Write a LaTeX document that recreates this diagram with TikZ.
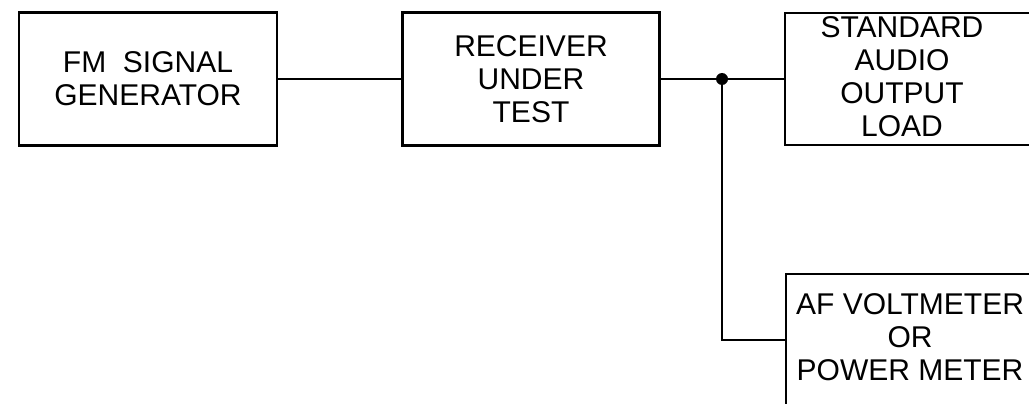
\documentclass[tikz,border=0pt]{standalone}
\usepackage{fontspec}
\setmainfont{Liberation Sans}
\usetikzlibrary{arrows.meta}

\begin{document}
\begin{tikzpicture}[x=1pt,y=-1pt,
  blk/.style={draw, line width=2.6pt, rectangle, inner sep=0pt},
  lbl/.style={align=center, inner sep=0pt, font=\fontsize{30}{33}\selectfont},
  wire/.style={line width=2.6pt}]
\useasboundingbox (0,0) rectangle (1029,404);
\node[blk, lbl, minimum width=258, minimum height=133] (gen) at (148,79) {FM\ \ SIGNAL\\GENERATOR};
\node[blk, lbl, minimum width=257, minimum height=133] (rcv) at (531,79) {RECEIVER\\UNDER\\TEST};
\node[blk, minimum width=270, minimum height=132] (load) at (920,79) {};
\node[lbl] (loadtxt) at (902,77) {STANDARD\\AUDIO\\OUTPUT\\LOAD};
\node[blk, minimum width=270, minimum height=132] (meter) at (921,340) {};
\node[lbl] (metertxt) at (910,337) {AF VOLTMETER\\OR\\POWER METER};
\coordinate (jn) at (722,79);
\draw[wire] (gen.east) -- (rcv.west);
\draw[wire] (rcv.east) -- (jn) -- (load.west);
\draw[wire] (jn) |- (meter.west);
\fill[black] (jn) circle (6);
\end{tikzpicture}
\end{document}
